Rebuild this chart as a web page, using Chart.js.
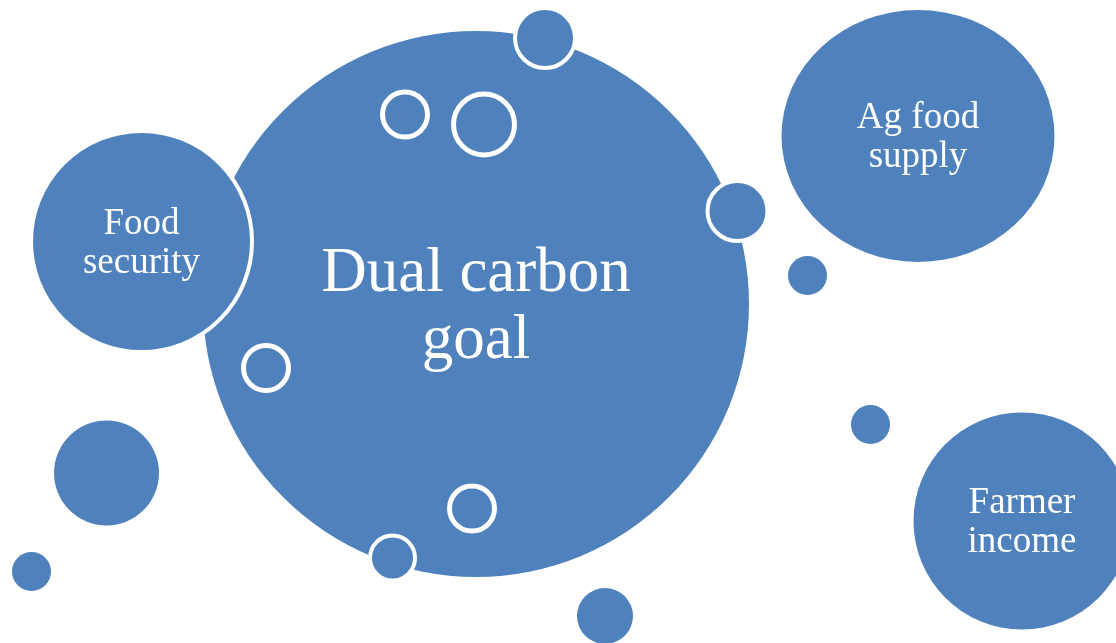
<!DOCTYPE html>
<html>
<head>
<meta charset="utf-8">
<title>Dual carbon goal</title>
<script src="https://cdn.jsdelivr.net/npm/chart.js@4/dist/chart.umd.min.js"></script>
<style>
  html, body { margin: 0; padding: 0; background: #ffffff; }
  #bubbles { display: block; }
</style>
</head>
<body>
<canvas id="bubbles" width="1116" height="643"></canvas>
<script>
// bubble centres (page units, y grows downward) and radii
const bubbleX = [476, 141.5, 918, 1022, 545, 737.5, 392.5, 405, 484, 266, 472, 807.5, 870.5, 106.5, 31.5, 605];
const bubbleY = [304, 241.5, 136, 521, 38, 211, 558, 114.5, 124.5, 368, 508.5, 275.5, 424.5, 473, 571.5, 616];
const bubbleR = [273, 110.5, 136.5, 108.5, 30, 30, 22.5, 22.5, 30.5, 22.5, 22.5, 19.5, 19.5, 52.5, 19.5, 28];
const bubbleLabels = [
  ["Dual carbon", "goal"],
  ["Food", "security"],
  ["Ag food", "supply"],
  ["Farmer", "income"],
  [], [], [], [], [], [], [], [], [], [], [], []
];

const BLUE = "#4F81BD";
const outlined = [1, 4, 5, 6];      // filled, white rim
const rings = [7, 8, 9, 10];        // white rim only
const ellipseIdx = 2;               // "Ag food supply" is a bit flattened
const ellipseSquash = 0.923;

// flattened bubble drawn as an image point style (even size keeps it centred)
function ellipseStyle(rx, ry) {
  const c = document.createElement("canvas");
  c.width = 2 * Math.ceil(rx + 2);
  c.height = 2 * Math.ceil(ry + 2);
  const g = c.getContext("2d");
  g.fillStyle = BLUE;
  g.beginPath();
  g.ellipse(c.width / 2, c.height / 2, rx, ry, 0, 0, Math.PI * 2);
  g.fill();
  return c;
}

const points = bubbleX.map((x, i) => ({ x: x, y: bubbleY[i], r: bubbleR[i] }));

const labelPlugin = {
  id: "bubbleLabels",
  afterDatasetsDraw(chart) {
    const ctx = chart.ctx;
    const els = chart.getDatasetMeta(0).data;
    ctx.save();
    ctx.fillStyle = "#ffffff";
    ctx.textAlign = "center";
    ctx.textBaseline = "alphabetic";
    bubbleLabels.forEach((lines, i) => {
      if (!lines.length) return;
      const size = i === 0 ? 63 : 37;
      ctx.font = size + "px 'Liberation Serif', 'Times New Roman', serif";
      const first = els[i].y - 0.21 * size;
      lines.forEach((t, k) => ctx.fillText(t, els[i].x, first + k * 1.06 * size));
    });
    ctx.restore();
  }
};

new Chart(document.getElementById("bubbles"), {
  type: "bubble",
  data: {
    datasets: [{
      data: points,
      backgroundColor: points.map((p, i) => rings.includes(i) ? "rgba(0,0,0,0)" : BLUE),
      borderColor: "#ffffff",
      borderWidth: points.map((p, i) => rings.includes(i) ? 5 : outlined.includes(i) ? 4 : 0),
      pointStyle: points.map((p, i) => i === ellipseIdx
        ? ellipseStyle(bubbleR[i], bubbleR[i] * ellipseSquash)
        : "circle"),
      clip: false
    }]
  },
  options: {
    responsive: false,
    animation: false,
    events: [],
    layout: { padding: 0, autoPadding: false },
    plugins: { legend: { display: false }, tooltip: { enabled: false } },
    scales: {
      x: { type: "linear", min: 0, max: 1116, display: false },
      y: { type: "linear", min: 0, max: 643, reverse: true, display: false }
    }
  },
  plugins: [labelPlugin]
});
</script>
</body>
</html>
